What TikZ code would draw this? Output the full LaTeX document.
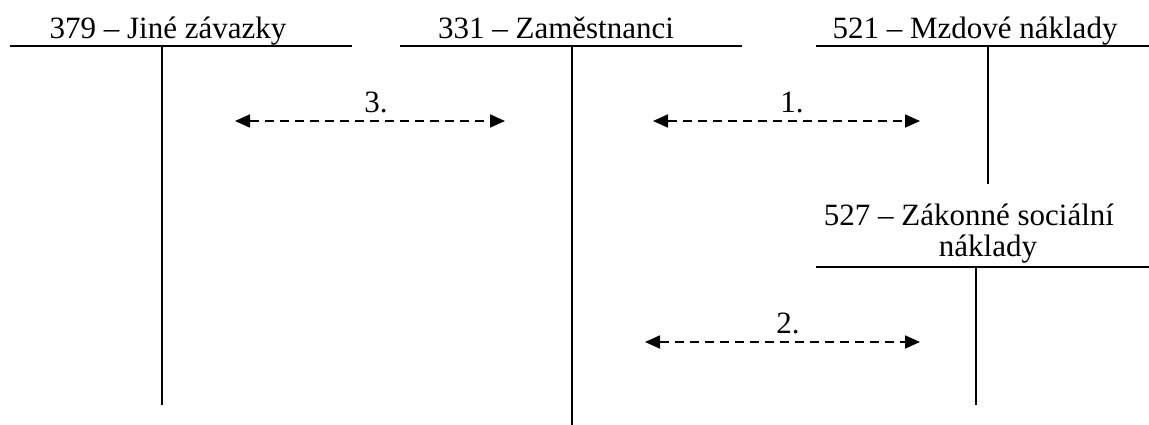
\documentclass[tikz,border=0pt]{standalone}
\usepackage{fontspec}
\setmainfont{Liberation Serif}
\usetikzlibrary{arrows.meta}
\begin{document}
\begin{tikzpicture}[x=1pt,y=-1pt,
  acct/.style={line width=1.4pt},
  ttl/.style={anchor=base,inner sep=0pt,font=\fontsize{31}{34}\selectfont},
  lbl/.style={anchor=base,inner sep=0pt,font=\fontsize{31}{34}\selectfont},
  flow/.style={line width=1.8pt,dash pattern=on 9pt off 6pt,{Triangle[length=15pt,width=13pt]}-{Triangle[length=15pt,width=13pt]}}]
\useasboundingbox (0,0) rectangle (1149,425);
% T-account 379
\node[ttl] (t379) at (168,39) {379 – Jiné závazky};
\coordinate (a1l) at (10,46); \coordinate (a1r) at (352,46);
\coordinate (a1t) at (162,46); \coordinate (a1b) at (162,405);
\draw[acct] (a1l) -- (a1r); \draw[acct] (a1t) -- (a1b);
% T-account 331
\node[ttl] (t331) at (556,39) {331 – Zaměstnanci};
\coordinate (a2l) at (400,46); \coordinate (a2r) at (742,46);
\coordinate (a2t) at (572,46); \coordinate (a2b) at (572,425);
\draw[acct] (a2l) -- (a2r); \draw[acct] (a2t) -- (a2b);
% T-account 521
\node[ttl] (t521) at (975,39) {521 – Mzdové náklady};
\coordinate (a3l) at (816,46); \coordinate (a3r) at (1149,46);
\coordinate (a3t) at (988,46); \coordinate (a3b) at (988,184);
\draw[acct] (a3l) -- (a3r); \draw[acct] (a3t) -- (a3b);
% T-account 527
\node[anchor=base,inner sep=0pt,align=center,font=\fontsize{31}{31}\selectfont] (t527) at (969,256)
  {527 – Zákonné sociální\\\hspace*{38pt}náklady};
\coordinate (a4l) at (816,267); \coordinate (a4r) at (1149,267);
\coordinate (a4t) at (976,267); \coordinate (a4b) at (976,405);
\draw[acct] (a4l) -- (a4r); \draw[acct] (a4t) -- (a4b);
% flows
\coordinate (f3a) at (235,121); \coordinate (f3b) at (505,121);
\draw[flow] (f3a) -- (f3b);
\node[lbl] (l3) at (376,113) {3.};
\coordinate (f1a) at (653,121); \coordinate (f1b) at (920,121);
\draw[flow] (f1a) -- (f1b);
\node[lbl] (l1) at (792,113) {1.};
\coordinate (f2a) at (645,342); \coordinate (f2b) at (920,342);
\draw[flow] (f2a) -- (f2b);
\node[lbl] (l2) at (788,333) {2.};
\end{tikzpicture}
\end{document}
